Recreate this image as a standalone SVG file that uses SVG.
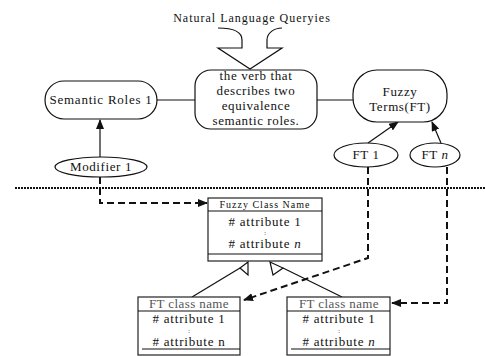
<svg xmlns="http://www.w3.org/2000/svg" width="485" height="356" viewBox="0 0 485 356">
<style>
text{font-family:"Liberation Serif","Times New Roman",serif;fill:#111}
.node{fill:#fff;stroke:#111;stroke-width:1.2}
.cls{fill:#fff;stroke:#222;stroke-width:1.2}
.ln{stroke:#111;stroke-width:1.2;fill:none}
.dash{stroke:#111;stroke-width:2;stroke-dasharray:7,4;fill:none}
.t13{font-size:13px;letter-spacing:0.6px}
.attr{font-size:13px;letter-spacing:0.8px}
.col{font-size:6px}
.hdr{font-size:13px;letter-spacing:0.4px;fill:#555}
</style>
<defs>
<marker id="ah" markerUnits="userSpaceOnUse" markerWidth="10" markerHeight="8" refX="9" refY="4" orient="auto">
<path d="M0,0 L10,4 L0,8 Z" fill="#111"/>
</marker>
</defs>
<rect width="485" height="356" fill="#fff"/>

<g id="title">
<text x="252" y="22" text-anchor="middle" style="font-size:12px;letter-spacing:1px">Natural Language Queryies</text>
<path class="ln" d="M218,28 C235,28 242,33 242,40 L242,48 L218,48 L250,69 L282,48 L267,48 L267,40 C267,33 274,28 282,28"/>
</g>

<g id="connectors">
<line class="ln" x1="157" y1="100" x2="195" y2="100"/>
<line class="ln" x1="317" y1="100" x2="353" y2="100"/>
<line class="ln" x1="100" y1="157" x2="100" y2="120" marker-end="url(#ah)"/>
<line class="ln" x1="368" y1="143" x2="398" y2="122" marker-end="url(#ah)"/>
<line class="ln" x1="441" y1="143" x2="432" y2="122" marker-end="url(#ah)"/>
<line x1="15" y1="188" x2="485" y2="188" stroke="#111" stroke-width="2.2" stroke-dasharray="2,1"/>
<polyline class="dash" points="100,177 100,203 207,203" marker-end="url(#ah)"/>
<polyline class="dash" points="368,167 368,258 244,300" marker-end="url(#ah)"/>
<polyline class="dash" points="447,167 447,303 392,303" marker-end="url(#ah)"/>
<line class="ln" x1="240" y1="268" x2="192" y2="297"/>
<line class="ln" x1="283" y1="268" x2="342" y2="297"/>
<path class="ln" d="M248,262 L240,268 L248,275 Z" fill="#fff"/>
<path class="ln" d="M270,262 L283,268 L273,275 Z" fill="#fff"/>
</g>

<g id="center">
<rect class="node" x="195" y="70" width="122" height="59" rx="16"/>
<text class="t13" x="256" y="80" text-anchor="middle">the verb that</text>
<text class="t13" x="256" y="95" text-anchor="middle">describes two</text>
<text class="t13" x="256" y="110" text-anchor="middle">equivalence</text>
<text class="t13" x="256" y="125" text-anchor="middle">semantic roles.</text>
</g>

<g id="semantic-roles">
<rect class="node" x="45" y="81" width="112" height="38" rx="19"/>
<text x="101" y="104" text-anchor="middle" style="font-size:13px;letter-spacing:0.75px">Semantic Roles 1</text>
</g>

<g id="fuzzy-terms">
<rect class="node" x="353" y="70" width="94" height="52" rx="24"/>
<text class="t13" x="400" y="96" text-anchor="middle">Fuzzy</text>
<text class="t13" x="400" y="111" text-anchor="middle">Terms(FT)</text>
</g>

<g id="modifier">
<ellipse class="node" cx="101" cy="167" rx="46" ry="10"/>
<text class="t13" x="101" y="171" text-anchor="middle">Modifier 1</text>
</g>

<g id="ft1">
<ellipse class="node" cx="366" cy="155" rx="32" ry="12"/>
<text class="t13" x="366" y="159" text-anchor="middle">FT 1</text>
</g>

<g id="ftn">
<ellipse class="node" cx="435" cy="155" rx="25" ry="12"/>
<text class="t13" x="435" y="159" text-anchor="middle">FT <tspan font-style="italic">n</tspan></text>
</g>

<g id="fuzzy-class">
<rect class="cls" x="208" y="198" width="114" height="63"/>
<line class="ln" x1="208" y1="211" x2="322" y2="211"/>
<line class="ln" x1="208" y1="254" x2="322" y2="254"/>
<text x="265" y="208" text-anchor="middle" style="font-size:10px;letter-spacing:1px">Fuzzy Class Name</text>
<text class="attr" x="265" y="226" text-anchor="middle"># attribute 1</text>
<text class="col" x="265" y="235" text-anchor="middle">:</text>
<text class="attr" x="265" y="248" text-anchor="middle"># attribute <tspan font-style="italic">n</tspan></text>
</g>

<g id="ft-class-left">
<rect class="cls" x="138" y="297" width="102" height="58"/>
<line class="ln" x1="138" y1="311" x2="240" y2="311"/>
<line class="ln" x1="142" y1="349" x2="240" y2="349"/>
<text class="hdr" x="189" y="308" text-anchor="middle">FT class name</text>
<text class="attr" x="189" y="323" text-anchor="middle"># attribute 1</text>
<text class="col" x="189" y="332.5" text-anchor="middle">:</text>
<text class="attr" x="189" y="346" text-anchor="middle"># attribute n</text>
</g>

<g id="ft-class-right">
<rect class="cls" x="287" y="297" width="103" height="58"/>
<line class="ln" x1="287" y1="311" x2="390" y2="311"/>
<line class="ln" x1="291" y1="349" x2="390" y2="349"/>
<text class="hdr" x="339" y="308" text-anchor="middle">FT class name</text>
<text class="attr" x="339" y="323" text-anchor="middle"># attribute 1</text>
<text class="col" x="339" y="332.5" text-anchor="middle">:</text>
<text class="attr" x="339" y="346" text-anchor="middle"># attribute <tspan font-style="italic">n</tspan></text>
</g>
</svg>
